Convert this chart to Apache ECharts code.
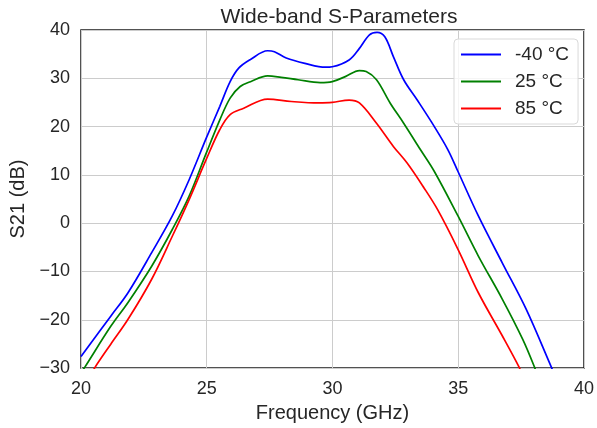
<!DOCTYPE html>
<html><head><meta charset="utf-8">
<script src="https://cdn.jsdelivr.net/npm/echarts@6/dist/echarts.min.js"></script>
<style>html,body{margin:0;padding:0;background:#fff}#c{width:597px;height:428px}</style>
</head><body><div id="c"></div>
<script>
const seriesNames = ['-40 °C', '25 °C', '85 °C'];
const seriesColors = ['#0000ff', '#008000', '#ff0000'];
const xTicks = [20, 25, 30, 35, 40];
const yTicks = [-30, -20, -10, 0, 10, 20, 30, 40];

const blue = [[20,-27.6],[21.19,-19.2],[21.87,-14.4],[22.81,-6.1],[23.63,1.5],[24.30,9.0],[24.98,17.6],[25.52,24.2],[25.93,29.3],[26.27,32.1],[26.74,33.9],[27.42,35.7],[27.69,35.5],[28.16,34.2],[28.90,33.1],[29.72,32.3],[29.99,32.4],[30.66,33.8],[31.07,36.2],[31.47,39.0],[31.77,39.5],[32.08,38.6],[32.42,34.5],[32.83,29.7],[33.37,25.5],[34.05,20.0],[34.59,15.2],[34.99,10.7],[35.80,1.5],[36.75,-8.2],[37.70,-17.8],[38.71,-29.9],[38.8,-31]];
const green = [[20.0,-31],[20.14,-29.9],[21.19,-21.3],[21.87,-16.4],[22.81,-8.9],[23.63,-1.3],[24.30,5.6],[24.98,14.5],[25.52,21.4],[25.93,25.9],[26.33,28.3],[26.74,29.3],[27.42,30.5],[27.96,30.2],[28.63,29.7],[29.51,29.1],[29.99,29.3],[30.53,30.4],[31.07,31.6],[31.34,31.4],[31.75,29.7],[32.29,24.9],[32.83,20.7],[33.50,15.2],[34.05,10.7],[34.99,1.5],[35.80,-6.8],[36.75,-15.7],[37.56,-24.0],[38.04,-29.9],[38.1,-31]];
const red = [[20.45,-31],[20.55,-29.9],[21.19,-25.0],[21.87,-19.9],[22.81,-11.6],[23.63,-2.7],[24.30,4.9],[24.98,13.2],[25.52,19.4],[25.93,22.5],[26.47,23.8],[27.42,25.7],[28.36,25.2],[29.44,24.9],[29.99,25.0],[30.66,25.5],[31.07,24.9],[31.75,20.7],[32.42,15.9],[32.96,12.5],[33.64,7.3],[34.18,2.8],[34.99,-5.4],[35.80,-14.4],[36.75,-23.3],[37.43,-29.9],[37.5,-31]];
const allData = [blue, green, red];

const font = 'Liberation Sans, Arial, sans-serif';
const txt = '#262626';
const chart = echarts.init(document.getElementById('c'), null, {renderer:'canvas'});
chart.setOption({
  animation: false,
  backgroundColor: '#fff',
  title: {text: 'Wide-band S-Parameters', left: 334, top: 2, textAlign: 'center',
    textStyle: {fontFamily: font, fontSize: 21, fontWeight: 'normal', color: txt}},
  grid: {left: 81, right: 10, top: 30, bottom: 59, show: true, borderColor: '#1a1a1a', borderWidth: 1.5, containLabel: false},
  legend: {
    data: seriesNames, orient: 'vertical', left: 454, top: 39,
    itemWidth: 40, itemHeight: 2, itemGap: 8,
    icon: 'rect',
    backgroundColor: 'rgba(255,255,255,0.8)', borderColor: '#d9d9d9', borderWidth: 1, borderRadius: 4,
    padding: [6, 9, 6, 7],
    textStyle: {fontFamily: font, fontSize: 19, color: txt, padding: [0, 0, 0, 9]}
  },
  xAxis: {
    type: 'value', min: xTicks[0], max: xTicks[xTicks.length-1], interval: 5,
    name: 'Frequency (GHz)', nameLocation: 'middle', nameGap: 31,
    nameTextStyle: {fontFamily: font, fontSize: 20, color: txt},
    axisLine: {show: false}, axisTick: {show: false},
    axisLabel: {fontFamily: font, fontSize: 18, color: txt, margin: 12},
    splitLine: {show: true, lineStyle: {color: '#cccccc', width: 1}}
  },
  yAxis: {
    type: 'value', min: yTicks[0], max: yTicks[yTicks.length-1], interval: 10,
    name: 'S21 (dB)', nameLocation: 'middle', nameGap: 49, nameRotate: 90,
    nameTextStyle: {fontFamily: font, fontSize: 20, color: txt},
    axisLine: {show: false}, axisTick: {show: false},
    axisLabel: {fontFamily: font, fontSize: 18, color: txt, margin: 11,
      formatter: v => String(v).replace('-', '\u2212')},
    splitLine: {show: true, lineStyle: {color: '#cccccc', width: 1}}
  },
  series: allData.map((d, i) => ({
    name: seriesNames[i], type: 'line', data: d, smooth: 0.35, showSymbol: false, clip: true,
    lineStyle: {color: seriesColors[i], width: 1.7}, itemStyle: {color: seriesColors[i]}
  }))
});
</script></body></html>
